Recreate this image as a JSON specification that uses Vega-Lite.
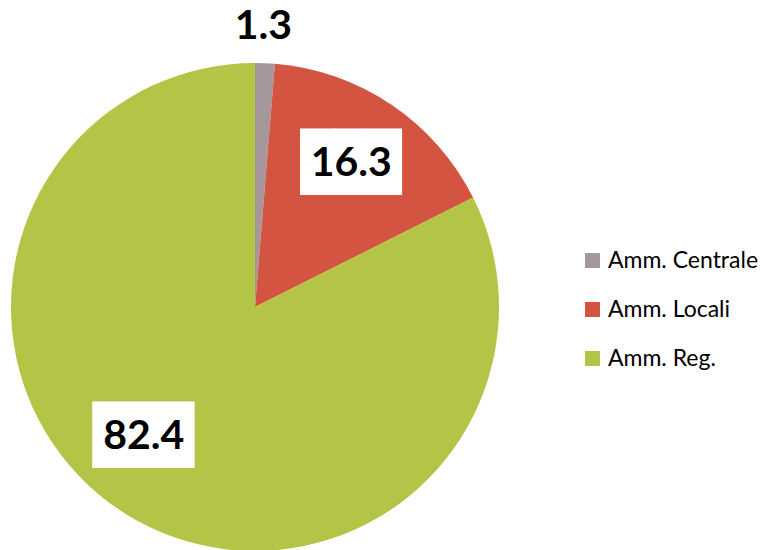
{
  "$schema": "https://vega.github.io/schema/vega-lite/v6.json",
  "width": 486,
  "height": 486,
  "autosize": {"type": "none"},
  "padding": {"left": 12, "top": 64, "right": 269, "bottom": 0},
  "background": "white",
  "config": {"view": {"stroke": null}},
  "data": {"values": [
    {"cat": "Amm. Centrale", "value": 1.3},
    {"cat": "Amm. Locali", "value": 16.3},
    {"cat": "Amm. Reg.", "value": 82.4}
  ]},
  "encoding": {
    "theta": {"field": "value", "type": "quantitative", "stack": true},
    "order": {"field": "cat", "type": "nominal", "sort": "ascending"}
  },
  "layer": [
    {
      "mark": {"type": "arc", "outerRadius": 244},
      "encoding": {
        "color": {
          "field": "cat", "type": "nominal",
          "scale": {"domain": ["Amm. Centrale", "Amm. Locali", "Amm. Reg."], "range": ["#A5979C", "#D25441", "#B4C447"]},
          "legend": {
            "orient": "none", "legendX": 569, "legendY": 185, "title": null,
            "symbolType": "square", "symbolSize": 225, "symbolStrokeWidth": 0,
            "labelFont": "Lato", "labelFontSize": 23, "labelColor": "#000000",
            "labelOffset": 4, "rowPadding": 25
          }
        }
      }
    },
    {
      "mark": {"type": "text", "radius": 172, "font": "DejaVu Sans Mono", "fontSize": 56, "color": "white", "baseline": "middle", "align": "center"},
      "encoding": {"text": {"condition": {"test": "datum.cat === 'Amm. Locali'", "value": "███"}, "value": ""}}
    },
    {
      "mark": {"type": "text", "radius": 172, "dx": -21, "dy": -16, "font": "DejaVu Sans Mono", "fontSize": 56, "color": "white", "baseline": "middle", "align": "center"},
      "encoding": {"text": {"condition": {"test": "datum.cat === 'Amm. Reg.'", "value": "███"}, "value": ""}}
    },
    {
      "mark": {"type": "text", "radius": 172, "font": "Lato", "fontWeight": "bold", "fontSize": 41, "color": "black", "baseline": "middle", "align": "center"},
      "encoding": {"text": {"condition": {"test": "datum.cat === 'Amm. Locali'", "field": "value", "format": ".1f"}, "value": ""}}
    },
    {
      "mark": {"type": "text", "radius": 172, "dx": -21, "dy": -16, "font": "Lato", "fontWeight": "bold", "fontSize": 41, "color": "black", "baseline": "middle", "align": "center"},
      "encoding": {"text": {"condition": {"test": "datum.cat === 'Amm. Reg.'", "field": "value", "format": ".1f"}, "value": ""}}
    },
    {
      "mark": {"type": "text", "radius": 280, "dx": -3, "font": "Lato", "fontWeight": "bold", "fontSize": 41, "color": "black", "baseline": "middle", "align": "center"},
      "encoding": {"text": {"condition": {"test": "datum.cat === 'Amm. Centrale'", "field": "value", "format": ".1f"}, "value": ""}}
    }
  ]
}
